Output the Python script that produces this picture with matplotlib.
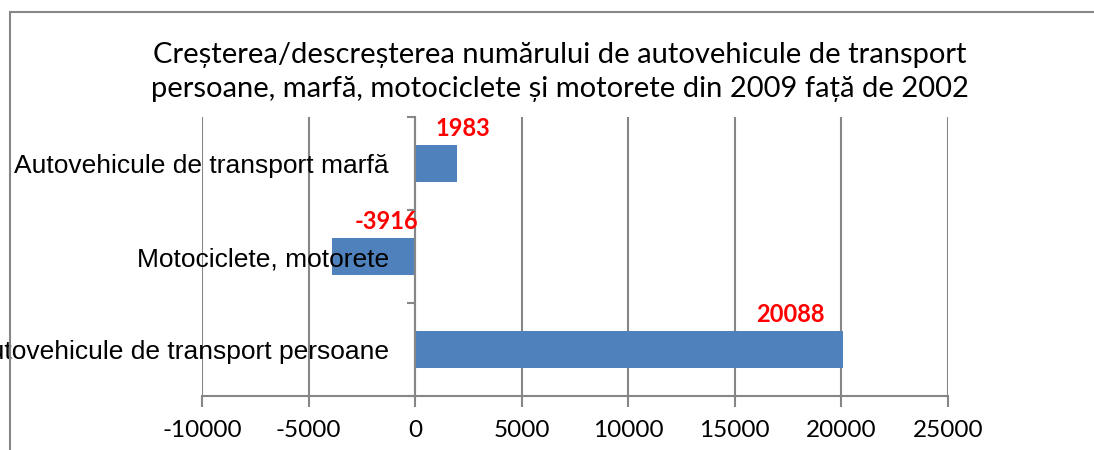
import numpy as np
import matplotlib.pyplot as plt
from matplotlib.patches import Rectangle

# data (bottom to top, as drawn)
categories = ['Autovehicule de transport persoane',
              'Motociclete, motorete',
              'Autovehicule de transport marfă']
values = [20088, -3916, 1983]
label_shift = [-2480, 2550, 270]   # where Excel left the data labels
xticks = [-10000, -5000, 0, 5000, 10000, 15000, 20000, 25000]
title = ('Creșterea/descreșterea numărului de autovehicule de transport\n'
         'persoane, marfă, motociclete și motorete din 2009 față de 2002')

grid_c = '#868686'
bar_c = '#4f81bd'

fig = plt.figure(figsize=(10.94, 4.5), dpi=100)
ax = fig.add_axes([202 / 1094, 1 - 396 / 450, 746 / 1094, 279 / 450])

# outer chart frame (right/bottom cut off in the original)
fig.patches.append(Rectangle((10 / 1094, -0.2), 1.2, 0.2 + 1 - 12 / 450,
                             transform=fig.transFigure, fill=False,
                             ec=grid_c, lw=1.5))

y = np.arange(len(categories))
for t in xticks:
    ax.axvline(t, color=grid_c, lw=1.5, zorder=0.5)
ax.barh(y, values, height=0.4, color=bar_c, zorder=1)
ax.set_axisbelow(False)

for yi, v, s in zip(y, values, label_shift):
    ax.text(v + s, yi + 0.38, str(v), color='red', fontsize=17,
            fontweight='bold', family=['Lato', 'DejaVu Sans'],
            ha='center', va='center', zorder=4)

ax.set_xlim(-10000, 25000)
ax.set_ylim(-0.5, 2.5)
ax.set_xticks(xticks)
ax.set_xticklabels([str(t) for t in xticks], family=['Lato', 'DejaVu Sans'],
                   fontsize=17.5)
ax.tick_params(axis='x', length=8, width=1.5, color=grid_c, pad=9)

# y axis sits on x = 0, ticks between categories, labels to the left
ax.spines['left'].set_position(('data', 0))
ax.spines['left'].set_color(grid_c)
ax.spines['left'].set_linewidth(1.5)
ax.set_yticks([-0.5, 0.5, 1.5, 2.5])
ax.set_yticklabels([])
ax.tick_params(axis='y', length=6, width=1.5, color=grid_c)
ax.set_yticks(y, minor=True)
ax.set_yticklabels(categories, minor=True, family=['Liberation Sans'],
                   fontsize=19)
ax.tick_params(axis='y', which='minor', length=0, pad=19)

for s in ['top', 'right']:
    ax.spines[s].set_visible(False)
ax.spines['bottom'].set_color(grid_c)
ax.spines['bottom'].set_linewidth(1.5)

fig.text(560 / 1094, 1 - 72 / 450, title, ha='center', va='center',
         fontsize=21, family=['Lato', 'DejaVu Sans'], linespacing=1.4)

fig.savefig('out.png', dpi=100)
